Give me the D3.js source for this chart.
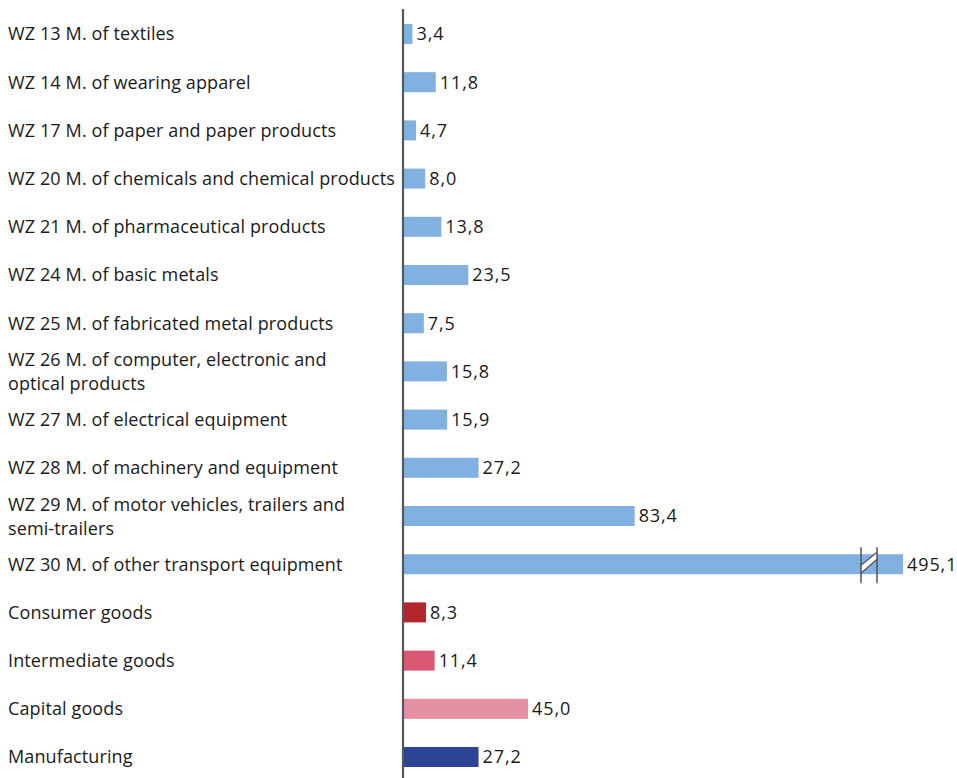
<!DOCTYPE html>
<html>
<head>
<meta charset="utf-8">
<script src="https://cdn.jsdelivr.net/npm/d3@7"></script>
<style>
  html, body { margin: 0; padding: 0; background: #fff; }
  svg { display: block; }
  text { font-family: "Open Sans", "Noto Sans", sans-serif; fill: #1a1a1a; }
</style>
</head>
<body>
<svg id="chart" width="957" height="778"></svg>
<script>
// Industry branches (WZ classification) and aggregates
const categories = [
  ["WZ 13 M. of textiles"],
  ["WZ 14 M. of wearing apparel"],
  ["WZ 17 M. of paper and paper products"],
  ["WZ 20 M. of chemicals and chemical products"],
  ["WZ 21 M. of pharmaceutical products"],
  ["WZ 24 M. of basic metals"],
  ["WZ 25 M. of fabricated metal products"],
  ["WZ 26 M. of computer, electronic and", "optical products"],
  ["WZ 27 M. of electrical equipment"],
  ["WZ 28 M. of machinery and equipment"],
  ["WZ 29 M. of motor vehicles, trailers and", "semi-trailers"],
  ["WZ 30 M. of other transport equipment"],
  ["Consumer goods"],
  ["Intermediate goods"],
  ["Capital goods"],
  ["Manufacturing"]
];
const values = [3.4, 11.8, 4.7, 8.0, 13.8, 23.5, 7.5, 15.8, 15.9, 27.2, 83.4, 495.1, 8.3, 11.4, 45.0, 27.2];
const groups = ["branch", "branch", "branch", "branch", "branch", "branch", "branch", "branch",
                "branch", "branch", "branch", "branch", "consumer", "intermediate", "capital", "total"];
const groupColors = {
  branch: "#80b1e1",
  consumer: "#b3262e",
  intermediate: "#da5873",
  capital: "#e590a2",
  total: "#2c4396"
};
// Bars beyond this value are cut and marked with a break symbol
const axisMax = 180;

const svg = d3.select("#chart");
const x0 = 403;
const x = d3.scaleLinear().domain([0, axisMax]).range([x0, 903]);
const y = d3.scaleBand().domain(d3.range(categories.length)).range([10, 781]).paddingInner(0.585).paddingOuter(0.29);

const fmt = v => d3.format(".1f")(v).replace(".", ",");
const rows = svg.append("g").selectAll("g").data(values).join("g");

rows.append("rect")
  .attr("x", x0)
  .attr("y", (d, i) => y(i))
  .attr("height", y.bandwidth())
  .attr("width", d => x(Math.min(d, axisMax)) - x0)
  .attr("fill", (d, i) => groupColors[groups[i]]);

rows.append("text")
  .attr("x", d => x(Math.min(d, axisMax)) + 4)
  .attr("y", (d, i) => y(i) + y.bandwidth() / 2)
  .attr("dy", "0.36em")
  .attr("font-size", 18)
  .attr("letter-spacing", 0.9)
  .text(d => fmt(d));

// Category labels, some on two lines
const labels = svg.append("g").selectAll("text").data(categories).join("text")
  .attr("x", 8)
  .attr("y", (d, i) => y(i) + y.bandwidth() / 2)
  .attr("font-size", 18)
  .attr("letter-spacing", 0.12);
labels.selectAll("tspan").data(d => d.map((t, k) => [t, k, d.length])).join("tspan")
  .attr("x", 8)
  .attr("dy", ([t, k, n]) => k === 0 ? (n === 1 ? "0.36em" : "-0.3em") : "1.33em")
  .text(([t]) => t);

// Break symbol on bars exceeding the axis maximum
values.forEach((v, i) => {
  if (v <= axisMax) return;
  const xa = x(axisMax) - 42, xb = xa + 16;
  const top = y(i), bot = y(i) + y.bandwidth();
  const g = svg.append("g");
  g.append("polygon")
    .attr("points", [[xa, bot - 9], [xb, top - 2], [xb, top + 5], [xa, bot - 1]].join(" "))
    .attr("fill", "#fff");
  g.append("line").attr("x1", xa).attr("x2", xb).attr("y1", bot - 9).attr("y2", top - 2)
    .attr("stroke", "#555").attr("stroke-width", 1.3);
  g.append("line").attr("x1", xa).attr("x2", xb).attr("y1", bot - 1).attr("y2", top + 5)
    .attr("stroke", "#555").attr("stroke-width", 1.3);
  [xa, xb].forEach(xx => g.append("line")
    .attr("x1", xx).attr("x2", xx).attr("y1", top - 7).attr("y2", bot + 9)
    .attr("stroke", "#555").attr("stroke-width", 1.5));
});

// Zero axis line
svg.append("line")
  .attr("x1", x0).attr("x2", x0).attr("y1", 9).attr("y2", 778)
  .attr("stroke", "#575757").attr("stroke-width", 2.2);
</script>
</body>
</html>
